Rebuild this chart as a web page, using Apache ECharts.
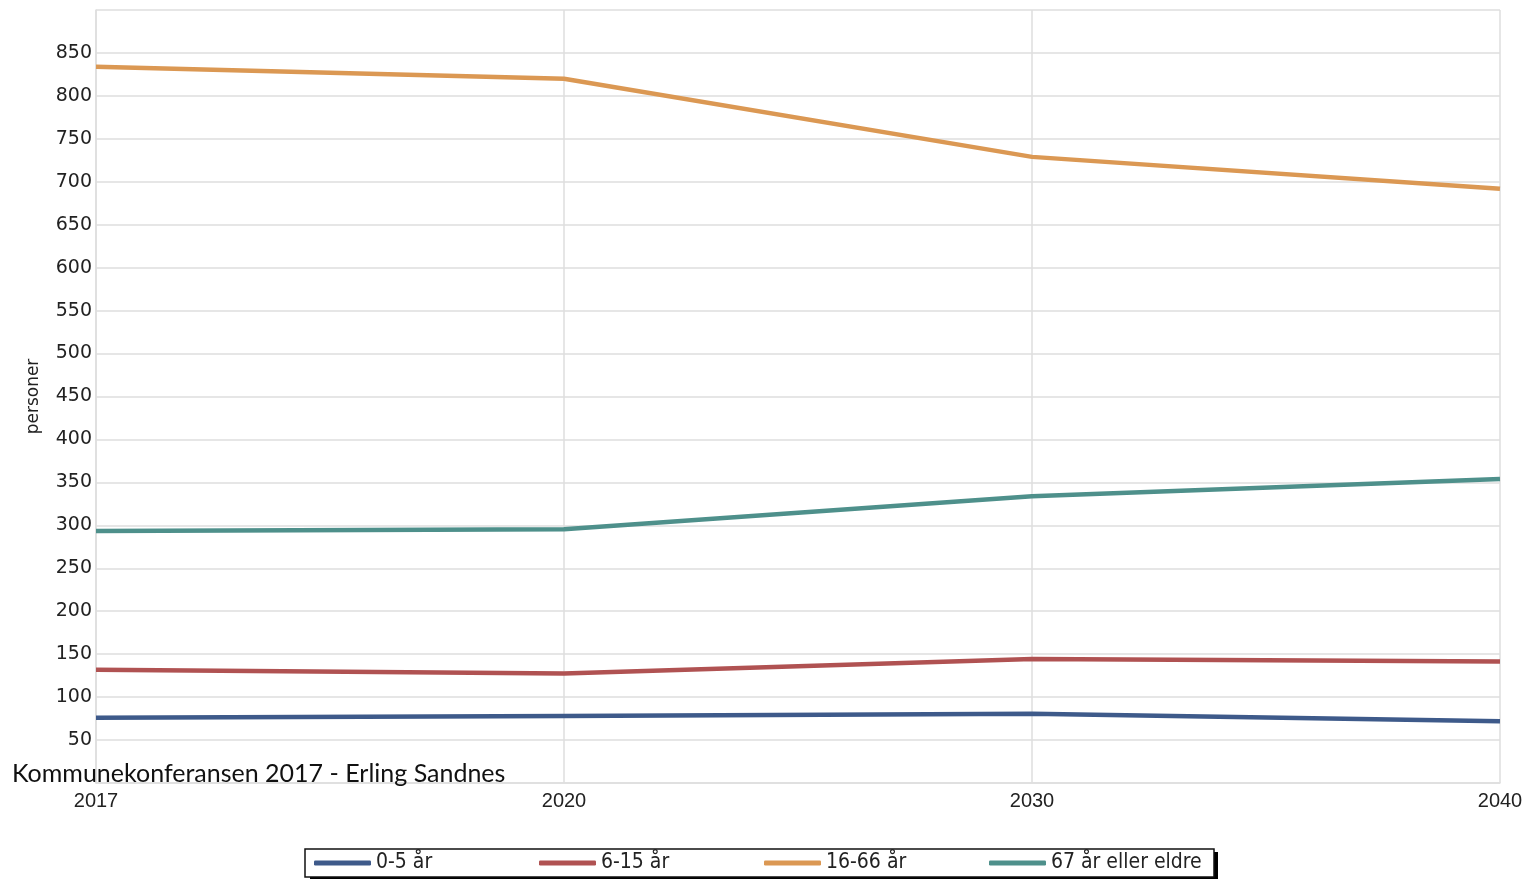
<!DOCTYPE html>
<html>
<head>
<meta charset="utf-8">
<script src="https://cdn.jsdelivr.net/npm/echarts@6/dist/echarts.min.js"></script>
<style>
html,body{margin:0;padding:0;background:#fff;}
#chart{width:1531px;height:879px;}
</style>
</head>
<body>
<div id="chart"></div>
<script>
const years = ['2017', '2020', '2030', '2040'];
const age0to5 = [76, 78, 80.5, 72];
const age6to15 = [132, 127.5, 144.5, 141.5];
const age16to66 = [834, 820, 729, 692];
const age67plus = [293.5, 295.5, 334, 354];
const seriesNames = ['0-5 år', '6-15 år', '16-66 år', '67 år eller eldre'];
const seriesColors = ['#3e5a8a', '#b05252', '#db9853', '#4e908b'];
const yAxisName = 'personer';
const footerText = 'Kommunekonferansen 2017 - Erling Sandnes';

const dataSets = [age0to5, age6to15, age16to66, age67plus];
const chart = echarts.init(document.getElementById('chart'));
const gridColor = '#dedede';

chart.setOption({
  backgroundColor: '#fff',
  animation: false,
  grid: { left: 96, right: 31, top: 10, bottom: 96, containLabel: false },
  xAxis: {
    type: 'category',
    data: years,
    boundaryGap: false,
    axisLine: { lineStyle: { color: gridColor, width: 1.5 } },
    axisTick: { show: false },
    splitLine: { show: true, lineStyle: { color: gridColor, width: 1.5 } },
    axisLabel: {
      color: '#222',
      fontFamily: '"Liberation Sans", Arial, sans-serif',
      fontSize: 20,
      margin: 8,
      showMinLabel: true,
      showMaxLabel: true
    }
  },
  yAxis: {
    type: 'value',
    min: 0,
    max: 900,
    interval: 50,
    name: yAxisName,
    nameLocation: 'middle',
    nameGap: 54,
    nameTextStyle: { color: '#222', fontFamily: '"DejaVu Sans", sans-serif', fontSize: 17 },
    axisLine: { show: true, lineStyle: { color: gridColor, width: 1.5 } },
    axisTick: { show: false },
    splitLine: { show: true, lineStyle: { color: gridColor, width: 1.5 } },
    axisLabel: {
      color: '#222',
      fontFamily: '"DejaVu Sans", sans-serif',
      fontSize: 19,
      margin: 4,
      formatter: function (v) { return (v === 0 || v === 900) ? '' : String(v); }
    }
  },
  legend: {
    data: seriesNames,
    left: 305,
    top: 849,
    orient: 'horizontal',
    padding: [3, 0, 3, 9],
    itemGap: 0,
    itemWidth: 57,
    itemHeight: 5,
    icon: 'roundRect',
    backgroundColor: '#fff',
    borderColor: '#111',
    borderWidth: 1.5,
    z: 10,
    textStyle: {
      color: '#222',
      fontFamily: '"Liberation Sans Narrow", "DejaVu Sans Condensed", sans-serif',
      fontSize: 21,
      width: 163,
      lineHeight: 22
    }
  },
  graphic: [{
    type: 'rect',
    z: 1,
    silent: true,
    shape: { x: 310, y: 852, width: 908, height: 28 },
    style: { fill: '#000' }
  }, {
    type: 'text',
    left: 12,
    top: 761,
    z: 100,
    style: {
      text: footerText,
      fill: '#111',
      font: '25px Lato, "Open Sans", sans-serif'
    }
  }],
  series: dataSets.map(function (d, i) {
    return {
      name: seriesNames[i],
      type: 'line',
      data: d,
      symbol: 'none',
      color: seriesColors[i],
      lineStyle: { width: 4.5, color: seriesColors[i] }
    };
  })
});
</script>
</body>
</html>
